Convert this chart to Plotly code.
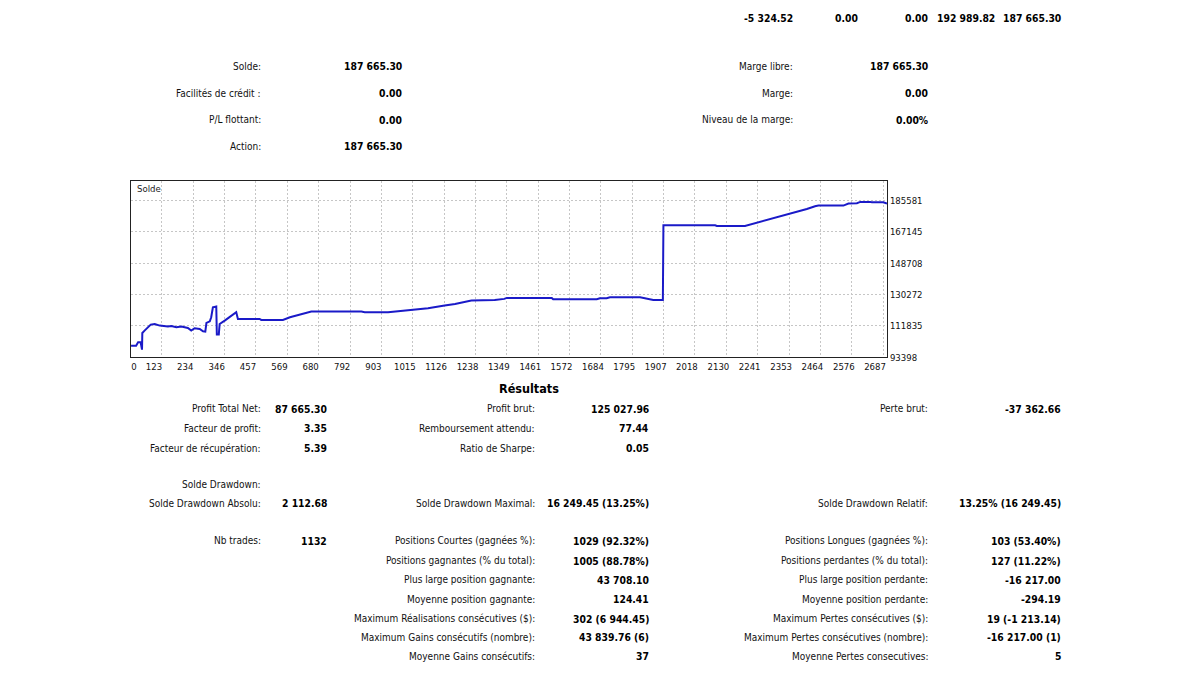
import plotly.graph_objects as go

# ---------------- data ----------------
balance_x = [13, 31, 38, 47, 52, 53, 61, 73, 83, 97, 115, 144, 156, 174, 192, 215, 227, 239, 257,
             269, 277, 281, 293, 298, 304, 316, 318, 325, 328, 346, 358, 375, 387, 393, 470, 476,
             553, 578, 614, 654, 832, 844, 927, 1010, 1069, 1128, 1165, 1223, 1306, 1340, 1349,
             1509, 1514, 1669, 1680, 1704, 1716, 1823, 1847, 1870, 1904, 1906, 2090, 2096, 2196,
             2226, 2273, 2321, 2368, 2416, 2445, 2457, 2546, 2564, 2594, 2606, 2641, 2647, 2688, 2701]
balance_y = [100290, 100290, 102230, 102230, 97930, 107710, 109120, 111070, 112660, 113010,
             112070, 111480, 111830, 111070, 111480, 110660, 109120, 110480, 110070, 108710,
             108530, 113600, 114600, 116960, 122850, 123260, 106770, 106770, 113010, 115010,
             116540, 118900, 119900, 115960, 115960, 115370, 115370, 116960, 118730, 120310,
             120310, 119900, 119900, 121260, 122260, 123850, 124790, 126790, 127150, 127740,
             128330, 128330, 127560, 127560, 128150, 128150, 128740, 128740, 127740, 127150,
             127150, 170970, 170970, 170560, 170560, 171910, 173910, 175860, 178040, 180570,
             182160, 182510, 182510, 183690, 183920, 184700, 184700, 184510, 184510, 183690]

x_tick_values = [123, 234, 346, 457, 569, 680, 792, 903, 1015, 1126, 1238, 1349, 1461, 1572,
                 1684, 1795, 1907, 2018, 2130, 2241, 2353, 2464, 2576, 2687]
x_first_label = "0"
y_tick_values = [93398, 111835, 130272, 148708, 167145, 185581]

top_values = ["-5 324.52", "0.00", "0.00", "192 989.82", "187 665.30"]

account_left_labels = ["Solde:", "Facilités de crédit :", "P/L flottant:", "Action:"]
account_left_values = ["187 665.30", "0.00", "0.00", "187 665.30"]
account_right_labels = ["Marge libre:", "Marge:", "Niveau de la marge:"]
account_right_values = ["187 665.30", "0.00", "0.00%"]

results_title = "Résultats"
col_a_labels = ["Profit Total Net:", "Facteur de profit:", "Facteur de récupération:", "Solde Drawdown:",
                "Solde Drawdown Absolu:", "Nb trades:"]
col_a_values = ["87 665.30", "3.35", "5.39", "", "2 112.68", "1132"]
col_b_labels = ["Profit brut:", "Remboursement attendu:", "Ratio de Sharpe:", "", "Solde Drawdown Maximal:",
                "Positions Courtes (gagnées %):", "Positions gagnantes (% du total):",
                "Plus large position gagnante:", "Moyenne position gagnante:",
                "Maximum Réalisations consécutives ($):", "Maximum Gains consécutifs (nombre):",
                "Moyenne Gains consécutifs:"]
col_b_values = ["125 027.96", "77.44", "0.05", "", "16 249.45 (13.25%)", "1029 (92.32%)", "1005 (88.78%)",
                "43 708.10", "124.41", "302 (6 944.45)", "43 839.76 (6)", "37"]
col_c_labels = ["Perte brut:", "", "", "", "Solde Drawdown Relatif:", "Positions Longues (gagnées %):",
                "Positions perdantes (% du total):", "Plus large position perdante:",
                "Moyenne position perdante:", "Maximum Pertes consécutives ($):",
                "Maximum Pertes consécutives (nombre):", "Moyenne Pertes consecutives:"]
col_c_values = ["-37 362.66", "", "", "", "13.25% (16 249.45)", "103 (53.40%)", "127 (11.22%)",
                "-16 217.00", "-294.19", "19 (-1 213.14)", "-16 217.00 (1)", "5"]

# ---------------- layout helpers ----------------
W, H = 1200, 677
FONT = "DejaVu Sans Condensed, Liberation Sans, sans-serif"
LBL = dict(family=FONT, size=10, color="#111111")


def ypos(py):
    # page pixel row -> paper fraction
    py = 18 + (py - 18) * 1.006
    return 1 - py / H


annotations = []


def txt(text, px, py, font, anchor="right"):
    if text == "":
        return
    annotations.append(dict(text=text, x=px / W, y=ypos(py), xref="paper", yref="paper",
                            xanchor=anchor, yanchor="middle", showarrow=False, font=font))


def txt_bold(text, px, py, anchor="right"):
    txt("<b>" + text + "</b>", px, py, dict(family=FONT, size=10.3, color="#000000"), anchor)


top_right_edges = [795, 860, 930, 997, 1063]
for v, xr in zip(top_values, top_right_edges):
    txt_bold(v, xr, 18.3)

acc_rows = [66.7, 93.3, 120, 146.7]
for i, (l, v) in enumerate(zip(account_left_labels, account_left_values)):
    txt(l, 263, acc_rows[i], LBL)
    txt_bold(v, 404, acc_rows[i])
for i, (l, v) in enumerate(zip(account_right_labels, account_right_values)):
    txt(l, 795, acc_rows[i], LBL)
    txt_bold(v, 930, acc_rows[i])

txt("<b>" + results_title + "</b>", 529, 389, dict(family=FONT, size=12.5, color="#000000"), "center")

res_rows = [409.5, 429, 449, 485, 504, 541.5, 561.5, 580.5, 600, 619.5, 638.5, 657.5]
for i, (l, v) in enumerate(zip(col_a_labels, col_a_values)):
    txt(l, 263, res_rows[i], LBL)
    txt_bold(v, 329, res_rows[i])
for i, (l, v) in enumerate(zip(col_b_labels, col_b_values)):
    txt(l, 537, res_rows[i], LBL)
    txt_bold(v, 651, res_rows[i])
for i, (l, v) in enumerate(zip(col_c_labels, col_c_values)):
    txt(l, 930, res_rows[i], LBL)
    txt_bold(v, 1063, res_rows[i])

txt("Solde", 135, 189, dict(family=FONT, size=9.5, color="#222222"), "left")

# ---------------- figure ----------------
fig = go.Figure()
fig.add_trace(go.Scatter(x=balance_x, y=balance_y, mode="lines",
                         line=dict(color="#1a1ac8", width=2), hoverinfo="skip", showlegend=False))

x_lo, x_hi = 12.8, 2701
first_label_pos = 52
grid_col = "#c6c6c6"
fig.update_layout(
    width=W, height=H, margin=dict(l=0, r=0, t=0, b=0),
    paper_bgcolor="white", plot_bgcolor="white",
    annotations=annotations,
    xaxis=dict(domain=[131 / W, 887 / W], range=[x_lo, x_hi],
               tickmode="array", tickvals=[first_label_pos] + x_tick_values,
               ticktext=[x_first_label] + [str(v) for v in x_tick_values],
               ticklabelshift=-8, showgrid=False, zeroline=False,
               showline=True, linecolor="#222222", linewidth=1, mirror=True,
               tickfont=dict(family=FONT, size=9.5, color="#111111"),
               minor=dict(tickmode="array", tickvals=x_tick_values, showgrid=True,
                          gridcolor=grid_col, griddash="2px,2px", gridwidth=1, ticks="")),
    yaxis=dict(domain=[ypos(358), ypos(181)], range=[93398, 197180], side="right",
               tickmode="array", tickvals=y_tick_values,
               ticktext=[str(v) for v in y_tick_values],
               showgrid=True, gridcolor=grid_col, griddash="2px,2px", gridwidth=1, zeroline=False,
               showline=True, linecolor="#222222", linewidth=1, mirror=True,
               tickfont=dict(family=FONT, size=9.5, color="#111111")),
)

fig.write_html("out.html")
